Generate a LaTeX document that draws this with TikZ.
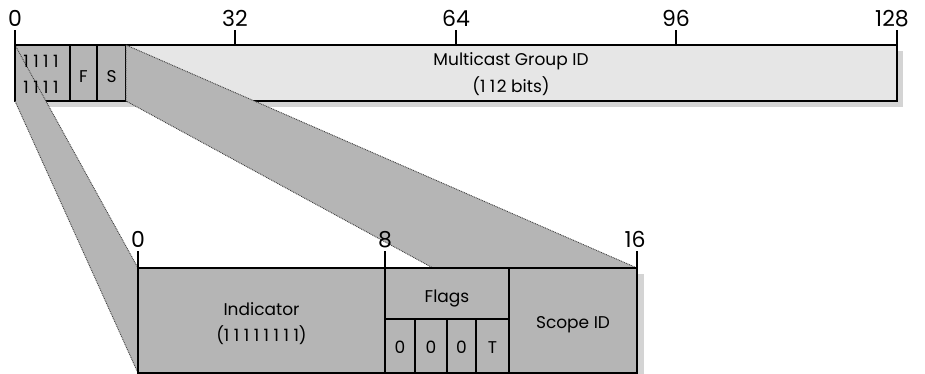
\documentclass[tikz,border=0pt]{standalone}
\usepackage{fontspec}
\setmainfont{Poppins}
\definecolor{dkgray}{HTML}{B5B5B5}
\definecolor{ltgray}{HTML}{E6E6E6}
\definecolor{shadowgray}{HTML}{D4D4D4}
\definecolor{dotcol}{HTML}{404040}
\newcommand{\myone}{1\kern4.5pt}
\begin{document}
\begin{tikzpicture}[x=1pt,y=-1pt,
  field/.style={anchor=north west, inner sep=0pt, outer sep=0pt, draw=black, line width=1.2pt},
  border/.style={draw=black, line width=2pt},
  band/.style={fill=dkgray, draw=dotcol, line width=0.9pt, dash pattern=on 0.9pt off 0.9pt},
  tick/.style={draw=black, line width=2pt},
  lbl/.style={anchor=base, inner sep=0pt, font=\fontsize{17}{20}\selectfont},
  num/.style={anchor=base, inner sep=0pt, font=\fontsize{22}{26}\selectfont}]
\useasboundingbox (0,0) rectangle (925,373);
% shadows
\fill[shadowgray] (21,51) rectangle (903,107);
\fill[shadowgray] (144,274) rectangle (644,380);
% top bar fields
\node[field, fill=dkgray, minimum width=55, minimum height=56] (ones) at (15,45) {};
\node[field, fill=dkgray, minimum width=27, minimum height=56] (ff) at (70,45) {};
\node[field, fill=dkgray, minimum width=29, minimum height=56] (ss) at (97,45) {};
\node[field, fill=ltgray, minimum width=771, minimum height=56] (mc) at (126,45) {};
\draw[border] (ones.north west) rectangle (mc.south east);
% bottom box fields
\node[field, fill=dkgray, minimum width=247, minimum height=105] (ind) at (138,268) {};
\node[field, fill=dkgray, minimum width=124, minimum height=51] (flags) at (385,268) {};
\node[field, fill=dkgray, minimum width=30, minimum height=54] (b0) at (385,319) {};
\node[field, fill=dkgray, minimum width=32, minimum height=54] (b1) at (415,319) {};
\node[field, fill=dkgray, minimum width=29, minimum height=54] (b2) at (447,319) {};
\node[field, fill=dkgray, minimum width=33, minimum height=54] (b3) at (476,319) {};
\node[field, fill=dkgray, minimum width=128, minimum height=105] (scope) at (509,268) {};
\coordinate (bandend) at (433,268);
% projection bands
\path[band] (ones.north west) -- (ind.north west) -- (ind.south west) -- (ones.south west) -- cycle;
\path[band] (ss.north east) -- (scope.north east) -- (bandend) -- (ss.south east) -- cycle;
\draw[border] (ind.north west) -- (scope.north east);
% ticks
\draw[tick] (15,30) -- (ones.south west);
\draw[tick] (235,30) -- (235,45);
\draw[tick] (456,30) -- (456,45);
\draw[tick] (676,30) -- (676,45);
\draw[tick] (897,30) -- (mc.south east);
\draw[tick] (138,251) -- (ind.south west);
\draw[tick] (385,251) -- (385,268);
\draw[tick] (637,251) -- (scope.south east);
% tick labels
\node[num] (t0) at (15,26) {0};
\node[num] (t32) at (235,26) {32};
\node[num] (t64) at (456,26) {64};
\node[num] (t96) at (676,26) {96};
\node[num] (t128) at (892,26) {128};
\node[num] (u0) at (138,247) {0};
\node[num] (u8) at (385,247) {8};
\node[num] (u16) at (635,247) {16};
% field labels
\node[lbl] (o1) at (41,67) {\myone\myone\myone 1};
\node[lbl] (o2) at (41,93) {\myone\myone\myone 1};
\node[lbl] (fl) at (83.5,82) {F};
\node[lbl] (sl) at (111.5,82) {S};
\node[lbl] (mcl) at (511,65) {Multicast Group ID};
\node[lbl] (mcb) at (511,92) {(\myone 1\kern1.5pt 2 bits)};
\node[lbl] (indl) at (261.5,315) {Indicator};
\node[lbl] (indb) at (261.5,341) {(\myone\myone\myone\myone\myone\myone\myone 1)};
\node[lbl] (fgl) at (447,302) {Flags};
\node[lbl] (b0l) at (400,353) {0};
\node[lbl] (b1l) at (431,353) {0};
\node[lbl] (b2l) at (461.5,353) {0};
\node[lbl] (b3l) at (492.5,353) {T};
\node[lbl] (scl) at (573,328) {Scope ID};
\end{tikzpicture}
\end{document}
